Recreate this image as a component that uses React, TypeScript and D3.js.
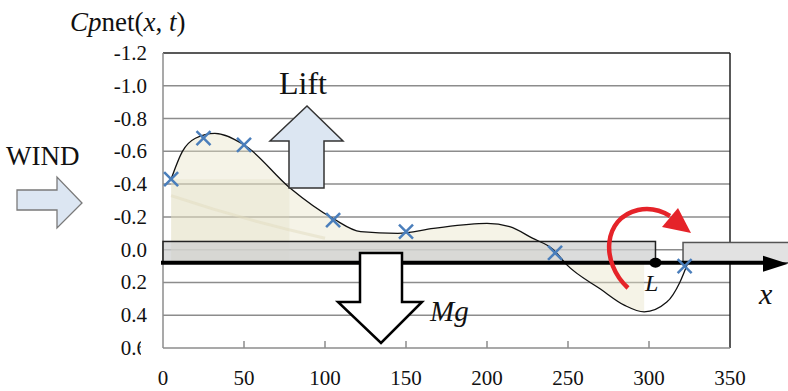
import React from 'react';
import * as d3 from 'd3';

const W = 788;
const H = 391;

// axis ticks
const xTicks = [0, 50, 100, 150, 200, 250, 300, 350];
const yTicks = [-1.2, -1.0, -0.8, -0.6, -0.4, -0.2, 0.0, 0.2, 0.4, 0.6];
const yTickLabels = ['-1.2', '-1.0', '-0.8', '-0.6', '-0.4', '-0.2', '0.0', '0.2', '0.4', '0.6'];

// smooth Cp curve
const curveX = [5, 12, 20, 32, 50, 78, 105, 122, 145, 167, 200, 214, 228, 241, 249, 270, 285, 297, 311, 319, 324];
const curveY = [-0.43, -0.6, -0.68, -0.71, -0.64, -0.38, -0.19, -0.11, -0.1, -0.13, -0.16, -0.14, -0.07, 0.0, 0.09, 0.24, 0.34, 0.38, 0.32, 0.2, 0.08];

// measured points (x markers)
const markX = [5, 25, 50, 105, 150, 242, 322];
const markY = [-0.43, -0.68, -0.64, -0.18, -0.11, 0.02, 0.1];

// body of the sheet and the x axis level
const beamLevel = 0.08;
const beamTop = -0.05;
const beamEnd = 304;
const tipStart = 321;
const shadeEnd = 297;
const darkShadeEnd = 78;

const App = () => {
  const x = d3.scaleLinear().domain([0, 350]).range([163, 730]);
  const y = d3.scaleLinear().domain([-1.2, 0.6]).range([53, 348]);

  const pts: [number, number][] = curveX.map((d, i) => [d, curveY[i]]);
  const line = d3.line<[number, number]>()
    .x(d => x(d[0]))
    .y(d => y(d[1]))
    .curve(d3.curveMonotoneX);
  const area = d3.area<[number, number]>()
    .x(d => x(d[0]))
    .y0(y(beamLevel))
    .y1(d => y(d[1]))
    .curve(d3.curveMonotoneX);

  const serif = '"Liberation Serif", "Times New Roman", serif';
  const base = y(beamLevel);

  return (
    <svg width={W} height={H} style={{ position: 'absolute', left: 0, top: 0, background: '#fff' }}
      fontFamily={serif}>
      <defs>
        <clipPath id="shadeClip">
          <rect x={x(0)} y={0} width={x(shadeEnd) - x(0)} height={H} />
        </clipPath>
        <clipPath id="areaClip">
          <path d={area(pts) || ''} />
        </clipPath>
        <clipPath id="lblClip">
          <rect x={0} y={0} width={141} height={H} />
        </clipPath>
      </defs>

      {/* title */}
      <text x={70} y={31} fontSize={27} fill="#111">
        <tspan fontStyle="italic">C</tspan>
        <tspan fontStyle="italic">p</tspan>
        <tspan>net(</tspan>
        <tspan fontStyle="italic">x</tspan>
        <tspan>, </tspan>
        <tspan fontStyle="italic">t</tspan>
        <tspan>)</tspan>
      </text>

      {/* grid */}
      {yTicks.slice(1, -1).map(t => (
        <line key={t} x1={x(0)} x2={x(350)} y1={y(t)} y2={y(t)} stroke="#8c8c8c" strokeWidth={1.5} />
      ))}
      <line x1={x(0)} x2={x(350)} y1={y(-1.2)} y2={y(-1.2)} stroke="#222" strokeWidth={1.5} />
      <line x1={x(350)} x2={x(350)} y1={y(-1.2)} y2={y(0.6)} stroke="#222" strokeWidth={1.5} />
      <line x1={x(0)} x2={x(0)} y1={y(-1.2)} y2={y(0.6)} stroke="#8c8c8c" strokeWidth={1.5} />
      <line x1={x(0)} x2={x(350)} y1={y(0.6)} y2={y(0.6)} stroke="#8c8c8c" strokeWidth={1.5} />
      {xTicks.slice(1, -1).map(t => (
        <line key={t} x1={x(t)} x2={x(t)} y1={y(0.6)} y2={y(0.6) - 7} stroke="#8c8c8c" strokeWidth={1.5} />
      ))}

      {/* tick labels */}
      {yTicks.map((t, i) => (
        <text key={t} x={147} y={y(t) + 7} fontSize={21} textAnchor="end" fill="#111"
          clipPath={i === yTicks.length - 1 ? 'url(#lblClip)' : undefined}>{yTickLabels[i]}</text>
      ))}
      {xTicks.map(t => (
        <text key={t} x={x(t)} y={385} fontSize={21} textAnchor="middle" fill="#111">{t}</text>
      ))}

      {/* shaded pressure area, semi transparent so the grid shows through */}
      <g clipPath="url(#shadeClip)">
        <path d={area(pts) || ''} fill="#e6e2c6" fillOpacity={0.42} />
        <rect x={x(5)} y={y(-0.43)} width={x(darkShadeEnd) - x(5)} height={base - y(-0.43)}
          fill="#dcd8b8" fillOpacity={0.25} clipPath="url(#areaClip)" />
        <path d={`M${x(5)},${y(-0.33)} Q${x(50)},${y(-0.18)} ${x(100)},${y(-0.07)}`} fill="none"
          stroke="#e2dbc0" strokeWidth={3} opacity={0.5} />
      </g>

      {/* sheet bodies */}
      <rect x={x(0)} y={y(beamTop)} width={x(beamEnd) - x(0)} height={base - y(beamTop)}
        fill="#cfd0d0" fillOpacity={0.75} stroke="#222" strokeWidth={1.5} />
      <rect x={x(tipStart)} y={y(beamTop) + 1} width={W - x(tipStart) + 5} height={base - y(beamTop) - 1}
        fill="#e2e2e2" stroke="#555" strokeWidth={1.5} />

      {/* curve */}
      <path d={line(pts) || ''} fill="none" stroke="#111" strokeWidth={1.3} />

      {/* x axis arrow */}
      <line x1={x(0) - 2} x2={765} y1={base} y2={base} stroke="#000" strokeWidth={4} />
      <polygon points={`763,${base - 7} 788,${base + 1} 763,${base + 9}`} fill="#000" />
      <ellipse cx={x(beamEnd)} cy={base} rx={6} ry={5} fill="#000" />

      {/* markers */}
      {markX.map((d, i) => (
        <g key={i} stroke="#4a7ebb" strokeWidth={2.5}>
          <line x1={x(d) - 7} x2={x(d) + 7} y1={y(markY[i]) - 7} y2={y(markY[i]) + 7} />
          <line x1={x(d) - 7} x2={x(d) + 7} y1={y(markY[i]) + 7} y2={y(markY[i]) - 7} />
        </g>
      ))}

      {/* WIND */}
      <text x={6} y={165} fontSize={27} fill="#111">WIND</text>
      <path d="M17,190 L57,190 L57,177 L82,203 L57,228 L57,210 L17,210 Z" fill="#dce6f2" stroke="#7a7a7a" strokeWidth={1.3} />

      {/* Lift */}
      <text x={279} y={94} fontSize={32} fill="#111">Lift</text>
      <path d="M270,141 L307,106 L343,141 L324,141 L324,188 L289,188 L289,141 Z" fill="#dce6f2" stroke="#333" strokeWidth={1.5} />

      {/* Mg */}
      <path d="M360,253 L402,253 L402,302 L422,302 L381,343 L338,302 L360,302 Z" fill="#fff" stroke="#000" strokeWidth={2.5} />
      <text x={430} y={321} fontSize={29} fontStyle="italic" fill="#111">Mg</text>

      {/* moment arrow */}
      <path d="M628,288 C600,262 603,218 638,210 C652,207 662,211 670,216" fill="none" stroke="#e52329" strokeWidth={4.5} />
      <polygon points="662,227 678,208 691,233" fill="#e52329" />

      <text x={645} y={291} fontSize={24} fontStyle="italic" fill="#111">L</text>
      <text x={759} y={304} fontSize={30} fontStyle="italic" fill="#111">x</text>
    </svg>
  );
};

export default App;
